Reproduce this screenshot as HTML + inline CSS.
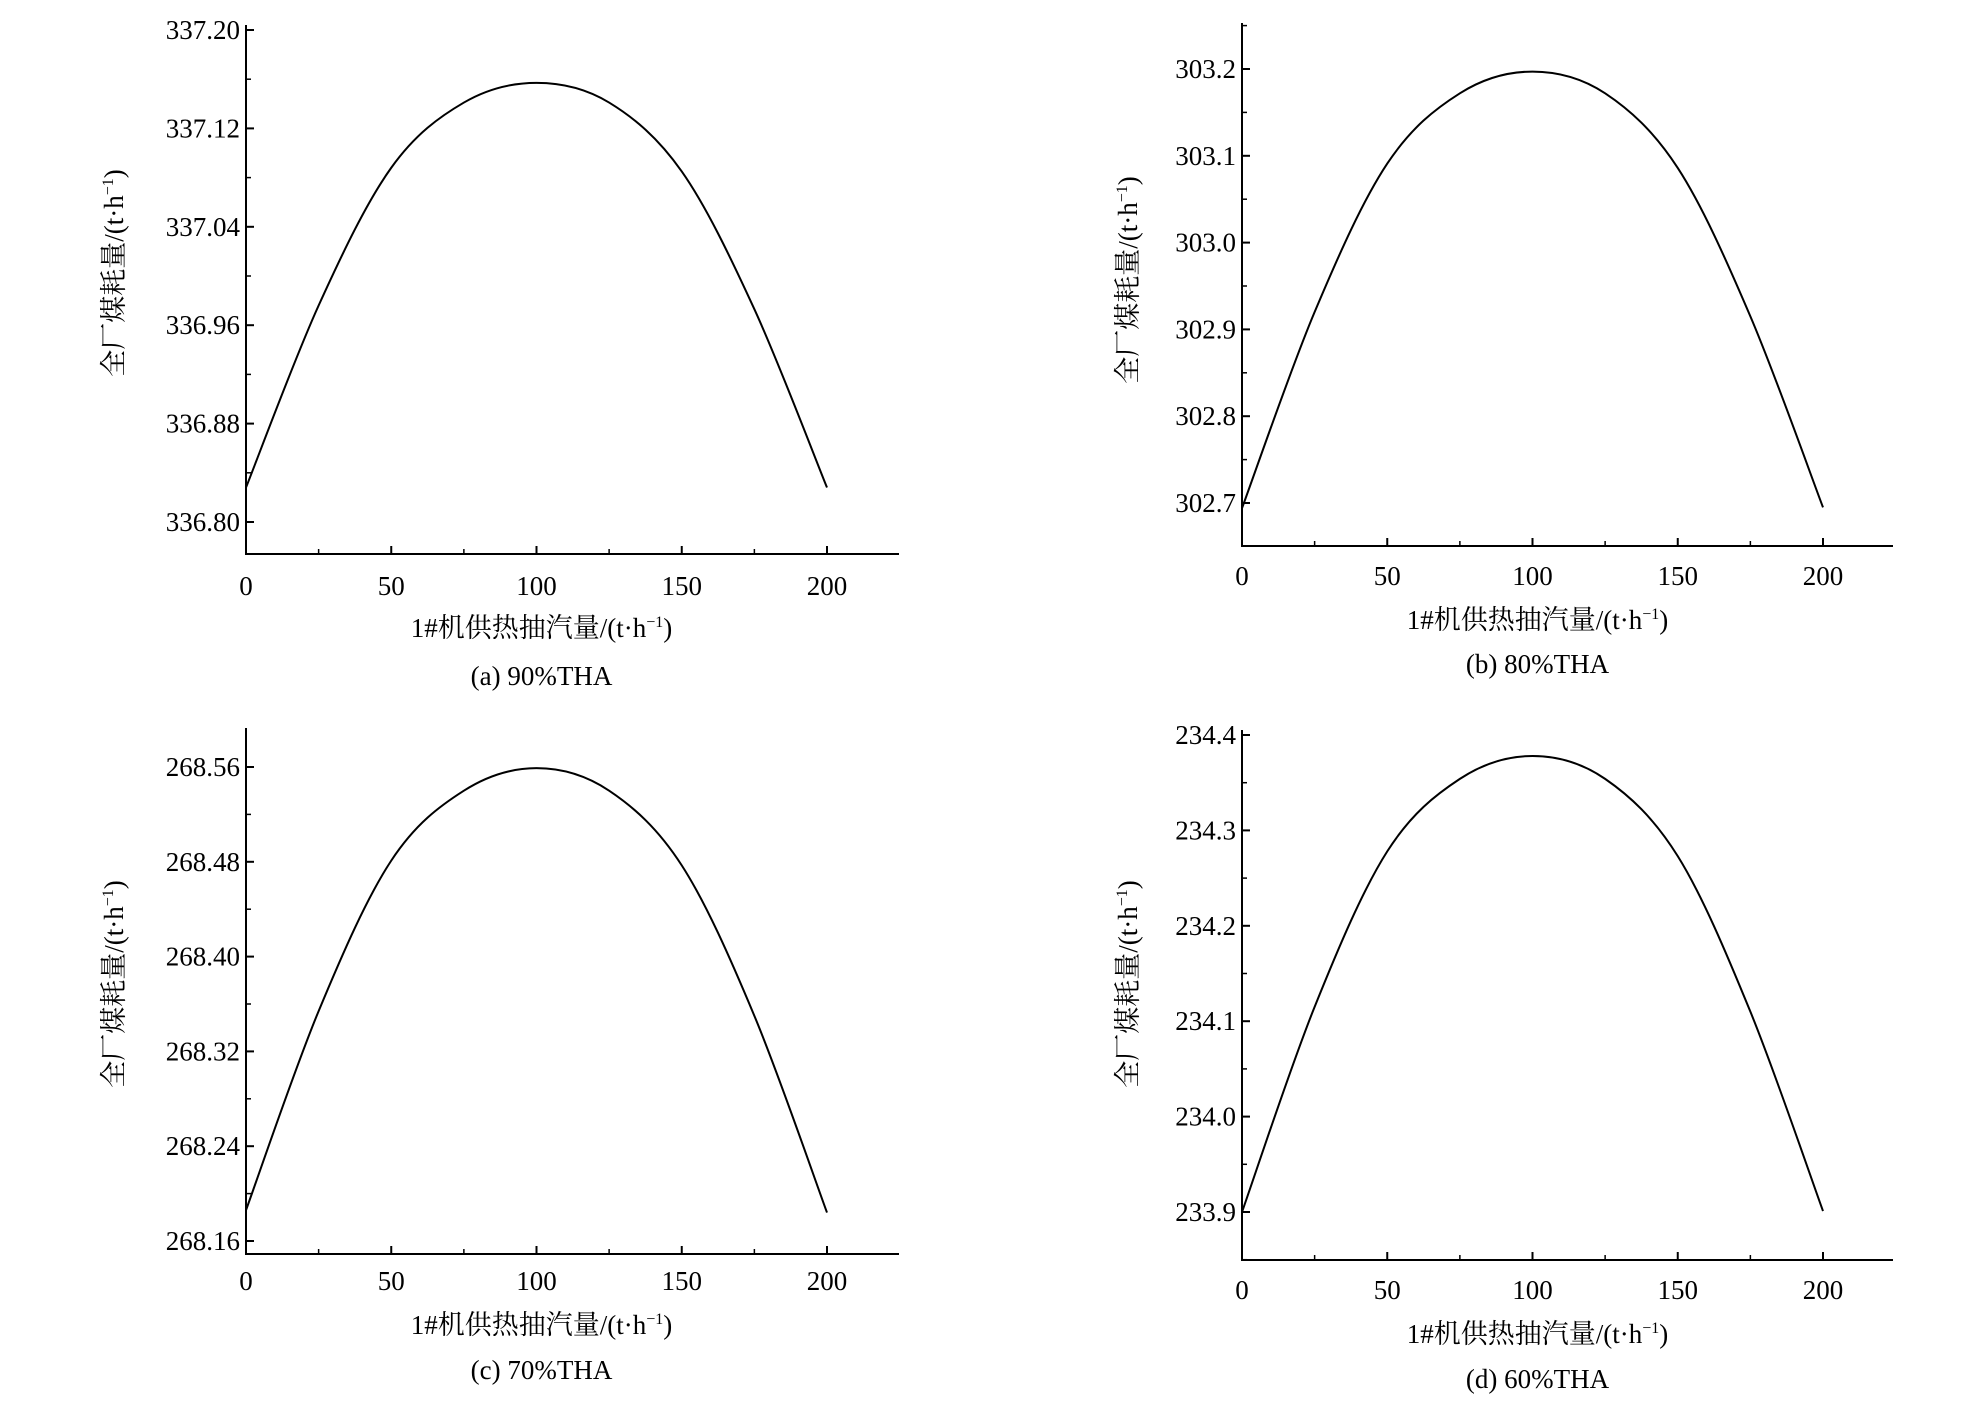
<!DOCTYPE html>
<html><head><meta charset="utf-8"><style>
body{margin:0;background:#fff;}
svg{display:block;font-family:"Liberation Serif","Noto Serif CJK SC",serif;}
</style></head><body>
<svg id="fig" width="1982" height="1403" viewBox="0 0 1982 1403"></svg>
<script>
const xTicks=[0,50,100,150,200];
const xValues=[0,25,50,75,100,125,150,175,200];
const seriesA=[336.828,336.976,337.088,337.141,337.157,337.141,337.085,336.973,336.828];
const seriesB=[302.694,302.920,303.091,303.172,303.197,303.172,303.086,302.915,302.695];
const seriesC=[268.186,268.354,268.481,268.540,268.559,268.540,268.477,268.350,268.184];
const seriesD=[233.900,234.115,234.278,234.354,234.378,234.354,234.273,234.110,233.901];
const yTicksA=["336.80","336.88","336.96","337.04","337.12","337.20"];
const yTicksB=["302.7","302.8","302.9","303.0","303.1","303.2"];
const yTicksC=["268.16","268.24","268.32","268.40","268.48","268.56"];
const yTicksD=["233.9","234.0","234.1","234.2","234.3","234.4"];
const captions=["(a) 90%THA","(b) 80%THA","(c) 70%THA","(d) 60%THA"];

const NS="http://www.w3.org/2000/svg";
const svg=document.getElementById('fig');
function mk(tag,attrs,parent){const e=document.createElementNS(NS,tag);for(const k in attrs)e.setAttribute(k,attrs[k]);(parent||svg).appendChild(e);return e;}

// layout: x0,x200,xEnd,top,bottom, yLowTickPix, yHighTickPix, tick labels y, xtitle y, caption y, ytitle x, ytitle y
const layouts=[
 {x0:246,x200:827,xEnd:899,top:25,bottom:554,yLo:522,yHi:30,tl:595,tt:637,cap:685,ytx:114,yty:273,ticks:yTicksA,data:seriesA,name:'a'},
 {x0:1242,x200:1823,xEnd:1893,top:23,bottom:546,yLo:503,yHi:69,tl:585,tt:629,cap:673,ytx:1128,yty:280,ticks:yTicksB,data:seriesB,name:'b'},
 {x0:246,x200:827,xEnd:899,top:728,bottom:1254,yLo:1241,yHi:767,tl:1290,tt:1334,cap:1379,ytx:114,yty:984,ticks:yTicksC,data:seriesC,name:'c'},
 {x0:1242,x200:1823,xEnd:1893,top:730,bottom:1260,yLo:1212,yHi:735,tl:1299,tt:1343,cap:1388,ytx:1128,yty:984,ticks:yTicksD,data:seriesD,name:'d'}
];

layouts.forEach((L,i)=>{
  const g=mk('g',{});
  
  
  const lo=parseFloat(L.ticks[0]),hi=parseFloat(L.ticks[L.ticks.length-1]);
  const xs=v=>L.x0+(v-xTicks[0])/(xTicks[xTicks.length-1]-xTicks[0])*(L.x200-L.x0);
  const ys=v=>L.yLo+(v-lo)/(hi-lo)*(L.yHi-L.yLo);
  const ax=mk('path',{d:`M${L.x0} ${L.top}V${L.bottom}H${L.xEnd}`,fill:'none',stroke:'#000','stroke-width':2},g);
  
  
  // y ticks
  const step=(hi-lo)/(L.ticks.length-1);
  L.ticks.forEach((t,k)=>{
    const y=ys(parseFloat(t));
    mk('line',{x1:L.x0,x2:L.x0+8,y1:y,y2:y,stroke:'#000','stroke-width':2},g);
    const tx=mk('text',{x:L.x0-6,y:y+9,'text-anchor':'end','font-size':27},g);
    tx.textContent=t;
    
    
    const ym=ys(parseFloat(t)+step/2);
    if(ym>L.top) mk('line',{x1:L.x0,x2:L.x0+5,y1:ym,y2:ym,stroke:'#000','stroke-width':1.5},g);
  });
  const ym0=ys(lo-step/2); if(ym0<L.bottom) mk('line',{x1:L.x0,x2:L.x0+5,y1:ym0,y2:ym0,stroke:'#000','stroke-width':1.5},g);
  // x ticks
  xTicks.forEach(t=>{
    const x=xs(t);
    mk('line',{x1:x,x2:x,y1:L.bottom,y2:L.bottom-8,stroke:'#000','stroke-width':2},g);
    const tx=mk('text',{x:x,y:L.tl,'text-anchor':'middle','font-size':27},g);
    tx.textContent=t;
    
    
    const xm=xs(t+25);
    if(xm<L.xEnd) mk('line',{x1:xm,x2:xm,y1:L.bottom,y2:L.bottom-5,stroke:'#000','stroke-width':1.5},g);
  });
  // curve (catmull-rom)
  const pts=xValues.map((v,k)=>[xs(v),ys(L.data[k])]);
  let d=`M${pts[0][0]} ${pts[0][1]}`;
  for(let k=0;k<pts.length-1;k++){
    const p0=pts[Math.max(0,k-1)],p1=pts[k],p2=pts[k+1],p3=pts[Math.min(pts.length-1,k+2)];
    d+=`C${p1[0]+(p2[0]-p0[0])/6} ${p1[1]+(p2[1]-p0[1])/6} ${p2[0]-(p3[0]-p1[0])/6} ${p2[1]-(p3[1]-p1[1])/6} ${p2[0]} ${p2[1]}`;
  }
  const c=mk('path',{d:d,fill:'none',stroke:'#000','stroke-width':2},g);
  
  
  // titles
  const xt=mk('text',{x:(L.x0+L.x200)/2+5,y:L.tt,'text-anchor':'middle','font-size':27},g);
  xt.innerHTML='1#机供热抽汽量/(t·h<tspan dy="-10" font-size="16">−1</tspan><tspan dy="10">)</tspan>';
  
  
  const yt=mk('text',{x:0,y:0,'text-anchor':'middle','font-size':27,transform:`translate(${L.ytx+9},${L.yty}) rotate(-90)`},g);
  yt.innerHTML='全厂煤耗量/(t·h<tspan dy="-10" font-size="16">−1</tspan><tspan dy="10">)</tspan>';
  
  
  const cp=mk('text',{x:(L.x0+L.x200)/2+5,y:L.cap,'text-anchor':'middle','font-size':27},g);
  cp.textContent=captions[i];
  
  
});
</script>
</body></html>
